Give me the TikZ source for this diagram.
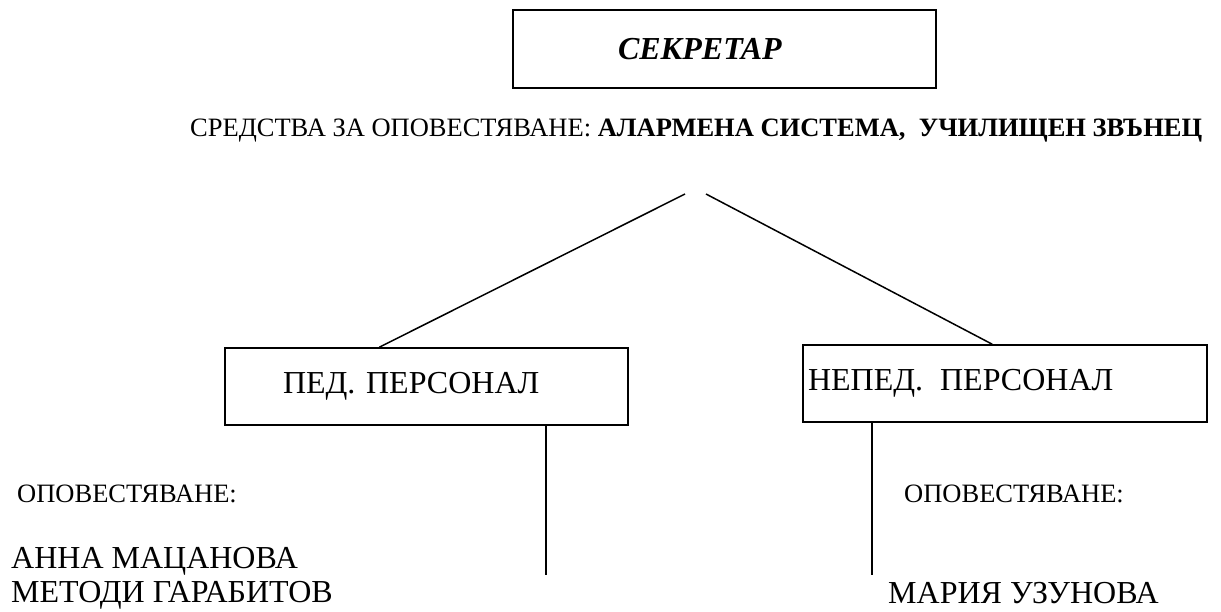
\documentclass[tikz,border=0pt]{standalone}
\usepackage{fontspec}
\setmainfont{Liberation Serif}
\usepackage{tikz}
\usetikzlibrary{positioning}

\begin{document}
\begin{tikzpicture}[
            x=1pt, y=-1pt,
            unit/.style={rectangle, draw=black, line width=1.5pt, align=left, inner ysep=0pt, font=\fontsize{32}{34}\selectfont},
            caption/.style={anchor=base west, inner sep=0pt, font=\fontsize{26.5}{30}\selectfont},
            person/.style={anchor=base west, inner sep=0pt, align=left, font=\fontsize{32}{34}\selectfont},
            link/.style={line width=1.5pt}
        ]
        \useasboundingbox (0,0) rectangle (1221,612);

        \node[unit, minimum height=78pt, inner xsep=105pt, text width=213pt, font=\fontsize{32}{34}\selectfont\bfseries\itshape] (secretary) at (724.5,49) {СЕКРЕТАР};
        \node[caption] (means) at (190,137) {СРЕДСТВА ЗА ОПОВЕСТЯВАНЕ: \textbf{АЛАРМЕНА СИСТЕМА,\ \ УЧИЛИЩЕН ЗВЪНЕЦ}};

        \node[unit, minimum height=77pt, inner xsep=58pt, text width=287pt] (teachers) at (426.5,386.5) {ПЕД. ПЕРСОНАЛ};
        \node[unit, minimum height=77pt, inner xsep=5pt, text width=394pt] (staff) at (1005,383.5) {НЕПЕД.\hspace{17pt}ПЕРСОНАЛ};

        \coordinate (forkleft) at (685,194);
        \coordinate (forkright) at (706,194);
        \coordinate (teachersend) at (546,575);
        \coordinate (staffend) at (872,575);

        \draw[link] (forkleft) -- ([xshift=155pt]teachers.north west);
        \draw[link] (forkright) -- ([xshift=190pt]staff.north west);
        \draw[link] (teachers.south -| teachersend) -- (teachersend);
        \draw[link] (staff.south -| staffend) -- (staffend);

        \node[caption] (notifyleft) at (17,502) {ОПОВЕСТЯВАНЕ:};
        \node[caption] (notifyright) at (904,502) {ОПОВЕСТЯВАНЕ:};
        \node[person] (teachernames) at (11,602) {АННА МАЦАНОВА\\МЕТОДИ ГАРАБИТОВ};
        \node[person] (staffname) at (888,603) {МАРИЯ УЗУНОВА};

    \end{tikzpicture}
\end{document}
